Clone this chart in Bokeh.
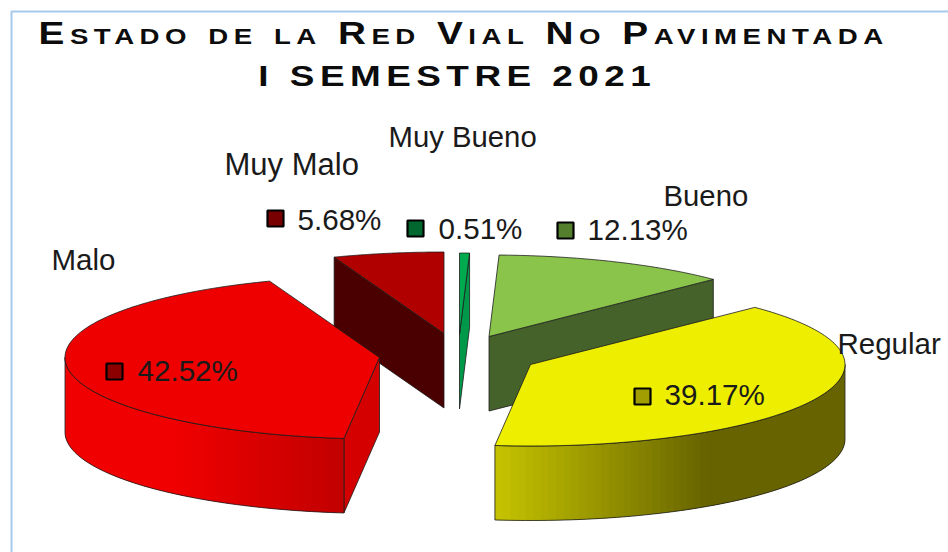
import numpy as np
from bokeh.plotting import figure
from bokeh.layouts import column
from bokeh.models import Range1d
from bokeh.core.properties import value
from bokeh.embed import file_html
from bokeh.resources import INLINE

# --- data ---
categories = ["Muy Bueno", "Bueno", "Regular", "Malo", "Muy Malo"]
percent = [0.51, 12.13, 39.17, 42.52, 5.68]
title_lines = ["Estado de la Red Vial No Pavimentada", "I SEMESTRE 2021"]

# --- styles / layout (pixel space of the picture) ---
RX, RY, DEPTH = 314.5, 81.5, 74.5
centers = {"Muy Bueno": (459, 334), "Bueno": (488.5, 336), "Regular": (530, 364),
           "Malo": (379, 357), "Muy Malo": (443.5, 333)}
top_col = {"Muy Bueno": "#00ab50", "Bueno": "#8ac44b", "Regular": "#eeee00",
           "Malo": "#ee0000", "Muy Malo": "#b00000"}
wall_col = {"Muy Bueno": "#00994a", "Bueno": "#46622b", "Regular": "#676400",
            "Malo": "#cc0000", "Muy Malo": "#4a0000"}
key_col = {"Muy Bueno": "#00682f", "Bueno": "#54802e", "Regular": "#a09e00",
           "Malo": "#8c0000", "Muy Malo": "#780000"}
name_pos = {"Muy Bueno": (388, 136, 29.3), "Bueno": (663, 195, 29.3), "Regular": (837, 343, 29.5),
            "Malo": (51, 259, 29.5), "Muy Malo": (224, 164, 31)}
pct_pos = {"Muy Bueno": (438, 228), "Bueno": (587, 229), "Regular": (664, 394),
           "Malo": (137, 370), "Muy Malo": (297, 219)}
key_pos = {"Muy Bueno": (415, 228), "Bueno": (565, 230), "Regular": (642, 396),
           "Malo": (114, 371), "Muy Malo": (275, 218)}
OUT = "#1c1c1c"
BORDER = "#a6c9ec"
FONT = value("Liberation Sans")
W, H = 948, 552
TITLE_H = 105
SX = 1.25

total = sum(percent)
edges = np.concatenate([[0.0], np.cumsum(percent)]) / total * 360.0
spans = {c: (edges[i], edges[i + 1]) for i, c in enumerate(categories)}


def pt(c, deg):
    cx, cy = centers[c]
    t = np.radians(deg)
    return cx + RX * np.sin(t), cy - RY * np.cos(t)


def lerp_col(c1, c2, f):
    f = min(max(f, 0.0), 1.0)
    a = [int(c1[i:i + 2], 16) for i in (1, 3, 5)]
    b = [int(c2[i:i + 2], 16) for i in (1, 3, 5)]
    return "#%02x%02x%02x" % tuple(int(round(a[i] + (b[i] - a[i]) * f)) for i in range(3))


def wall_gradient(c, x):
    if c == "Regular":
        return lerp_col("#c8c600", "#676400", (x - 494) / 215)
    return lerp_col("#f00000", "#c00000", (x - 170) / 175)


# --- title figure: stretched horizontally, drawn over the main figure ---
t = figure(width=int(W / SX), height=TITLE_H, x_range=Range1d(0, W), y_range=Range1d(TITLE_H, 0),
           output_backend="svg", toolbar_location=None, x_axis_location=None, y_axis_location=None,
           min_border=0, outline_line_color=None, background_fill_color=None, border_fill_color=None)
t.grid.visible = False
t.styles = {"letter-spacing": "4.4px", "font-variant": "small-caps", "transform": f"scaleX({SX})",
            "transform-origin": "0 0", "margin-bottom": f"-{TITLE_H}px", "z-index": "5"}
t.text(x=[38 / SX], y=[33], text=title_lines[:1], text_font=FONT,
       text_font_style="bold", text_font_size="31px", text_align="left",
       text_baseline="middle", text_color="#0c0c0c")
t.text(x=[258 / SX], y=[75], text=title_lines[1:], text_font=FONT,
       text_font_style="bold", text_font_size="29.5px", text_align="left",
       text_baseline="middle", text_color="#0c0c0c")

# --- main figure ---
p = figure(width=W, height=H, x_range=Range1d(0, W), y_range=Range1d(H, 0),
           output_backend="svg", toolbar_location=None, x_axis_location=None, y_axis_location=None,
           min_border=0, outline_line_color=None, background_fill_color=None, border_fill_color=None)
p.grid.visible = False
p.line([W, 11, 11], [11, 11, H], line_color=BORDER, line_width=2)

for c in ["Muy Malo", "Muy Bueno", "Bueno", "Malo", "Regular"]:
    a0, a1 = spans[c]
    cx, cy = centers[c]
    # radial end walls that face the viewer
    if c in ("Muy Malo", "Muy Bueno", "Bueno"):
        a = a0 if c == "Muy Malo" else a1
        ex, ey = pt(c, a)
        p.patch([ex, cx, cx, ex], [ey, cy, cy + DEPTH, ey + DEPTH], fill_color=wall_col[c],
                line_color=OUT, line_width=0.8)
    if c == "Malo":
        ex, ey = pt(c, a0)
        p.patch([cx, ex, ex, cx], [cy, ey, ey + DEPTH, cy + DEPTH], fill_color="#d40000",
                line_color=OUT, line_width=0.8)
    # outer rim, front half only, shaded in overlapping strips
    lo, hi = max(a0, 90.0), min(a1, 270.0)
    if hi > lo:
        th = np.linspace(lo, hi, 70)
        xs, ys, cols = [], [], []
        for i in range(len(th) - 1):
            j = min(i + 2, len(th) - 1)
            x0, y0 = pt(c, th[i])
            x1, y1 = pt(c, th[j])
            xs.append([x0, x1, x1, x0])
            ys.append([y0, y1, y1 + DEPTH, y0 + DEPTH])
            cols.append(wall_gradient(c, (x0 + x1) / 2))
        if c == "Regular":   # arc runs right-to-left here, paint from the left
            xs, ys, cols = xs[::-1], ys[::-1], cols[::-1]
        p.patches(xs, ys, fill_color=cols, line_color=None)
        ox, oy = pt(c, th)
        p.line(list(ox) + [ox[-1]] + list(ox[::-1]) + [ox[0]],
               list(oy + DEPTH) + [oy[-1]] + list(oy[::-1]) + [oy[0] + DEPTH],
               line_color=OUT, line_width=0.8)
    # top face
    th = np.linspace(a0, a1, 120)
    ax, ay = pt(c, th)
    p.patch([cx] + list(ax), [cy] + list(ay), fill_color=top_col[c], line_color=OUT, line_width=0.8)

# --- labels ---
for c, v in zip(categories, percent):
    nx, ny, fs = name_pos[c]
    p.text(x=[nx], y=[ny], text=[c], text_font=FONT, text_font_size=f"{fs}px",
           text_baseline="middle", text_color="#1a1a1a")
    kx, ky = key_pos[c]
    p.scatter(x=[kx], y=[ky], marker="square", size=16, fill_color=key_col[c], line_color="#000000", line_width=2.2)
    px, py = pct_pos[c]
    p.text(x=[px], y=[py], text=[f"{v:.2f}%"], text_font=FONT, text_font_size="29.6px",
           text_baseline="middle", text_color="#1a1a1a")

layout = column(t, p, spacing=0)
open("out.html", "w").write(file_html(layout, INLINE))
